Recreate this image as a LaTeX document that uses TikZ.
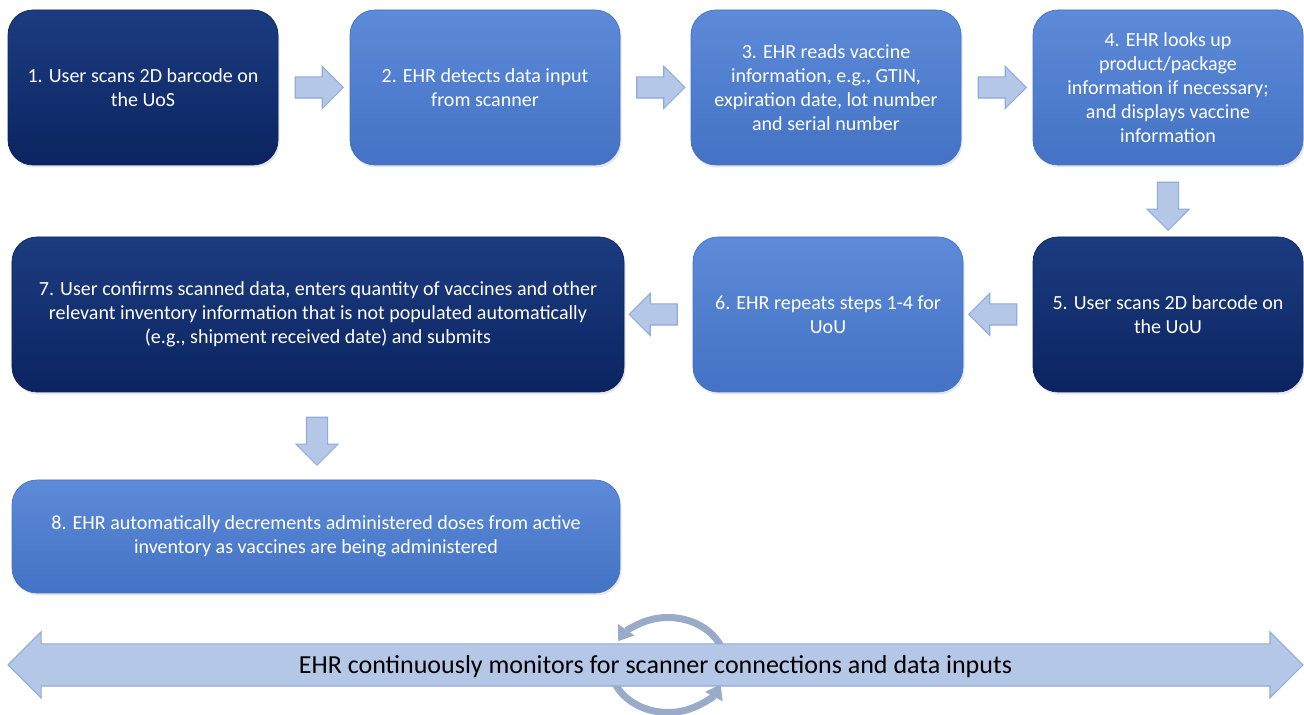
\documentclass[tikz,border=0pt]{standalone}
\usepackage{fontspec}
\setmainfont{Carlito}
\usetikzlibrary{shapes.arrows, calc, shadows, arrows.meta}
\definecolor{navy}{HTML}{0B2461}
\definecolor{navytop}{HTML}{1C3C80}
\definecolor{midblue}{HTML}{4472C4}
\definecolor{midtop}{HTML}{5D8BD9}
\definecolor{pale}{HTML}{B4C7E7}
\definecolor{paleedge}{HTML}{8FAADC}
\definecolor{loopgrey}{HTML}{9AABCA}
\tikzstyle{step_box}=[rectangle,
                      minimum height=3.1cm,
                      minimum width=5.4cm,
                      rounded corners=0.5cm,
                      text=white,
                      align=center,
                      font=\fontsize{11.4}{13.7}\selectfont,
                      drop shadow={shadow xshift=0.03cm, shadow yshift=-0.05cm, opacity=0.2}]
\tikzstyle{step_dark}=[step_box, top color=navytop, bottom color=navy, draw=navy]
\tikzstyle{step_mid}=[step_box, top color=midtop, bottom color=midblue, draw=midblue]
\tikzstyle{flow_arrow}=[single arrow,
                        minimum height=0.96cm,
                        single arrow head extend=0.21cm,
                        inner sep=0pt,
                        text height=0.2cm,
                        text depth=0.2cm,
                        fill=pale,
                        draw=paleedge,
                        line width=0.6pt]
\tikzstyle{loop_arrow}=[line width=0.14cm, draw=loopgrey,
                        -{Triangle[width=0.38cm, length=0.28cm]}]

\begin{document}
\begin{tikzpicture}
    \useasboundingbox (0,0) rectangle (26.08cm, 14.3cm);

    \node at (2.86cm, 12.55cm) (s1) [step_dark] {1. User scans 2D barcode on\\the UoS};
    \node at (9.7cm, 12.55cm) (s2) [step_mid] {2. EHR detects data input\\from scanner};
    \node at (16.52cm, 12.55cm) (s3) [step_mid] {3. EHR reads vaccine\\information, e.g., GTIN,\\expiration date, lot number\\and serial number};
    \node at (23.36cm, 12.55cm) (s4) [step_mid] {4. EHR looks up\\product/package\\information if necessary;\\and displays vaccine\\information};
    \node at (23.36cm, 8.01cm) (s5) [step_dark] {5. User scans 2D barcode on\\the UoU};
    \node at (16.56cm, 8.01cm) (s6) [step_mid] {6. EHR repeats steps 1-4 for\\UoU};
    \node at (6.36cm, 8.01cm) (s7) [step_dark, minimum width=12.24cm] {7. User confirms scanned data, enters quantity of vaccines and other\\relevant inventory information that is not populated automatically\\(e.g., shipment received date) and submits};
    \node at (6.32cm, 3.57cm) (s8) [step_mid, minimum width=12.16cm, minimum height=2.26cm] {8. EHR automatically decrements administered doses from active\\inventory as vaccines are being administered};

    \node (a12) at ($(s1.east)!0.5!(s2.west)$) [flow_arrow] {};
    \node (a23) at ($(s2.east)!0.5!(s3.west)$) [flow_arrow] {};
    \node (a34) at ($(s3.east)!0.5!(s4.west)$) [flow_arrow] {};
    \node (a45) at ($(s4.south)!0.5!(s5.north)$) [flow_arrow, rotate=-90] {};
    \node (a56) at ($(s5.west)!0.5!(s6.east)$) [flow_arrow, rotate=180] {};
    \node (a67) at ($(s6.west)!0.5!(s7.east)$) [flow_arrow, rotate=180] {};
    \node (a78) at ($(s7.south)!0.5!(s8.north)$) [flow_arrow, rotate=-90] {};

    \coordinate (loopc) at (13.36cm, 1.0cm);
    \draw[loop_arrow] ([shift={(22:1.15cm and 0.95cm)}]loopc) arc[start angle=22, end angle=150, x radius=1.15cm, y radius=0.95cm];
    \draw[loop_arrow] ([shift={(202:1.15cm and 0.95cm)}]loopc) arc[start angle=202, end angle=336, x radius=1.15cm, y radius=0.95cm];

    \node at (13.11cm, 1.0cm) (monitor) [double arrow,
                                         minimum height=25.9cm,
                                         double arrow head extend=0.24cm,
                                         inner sep=0pt,
                                         text height=0.58cm,
                                         text depth=0.24cm,
                                         fill=pale,
                                         draw=paleedge,
                                         line width=0.6pt,
                                         font=\fontsize{14.8}{17}\selectfont] {EHR continuously monitors for scanner connections and data inputs};
\end{tikzpicture}
\end{document}
